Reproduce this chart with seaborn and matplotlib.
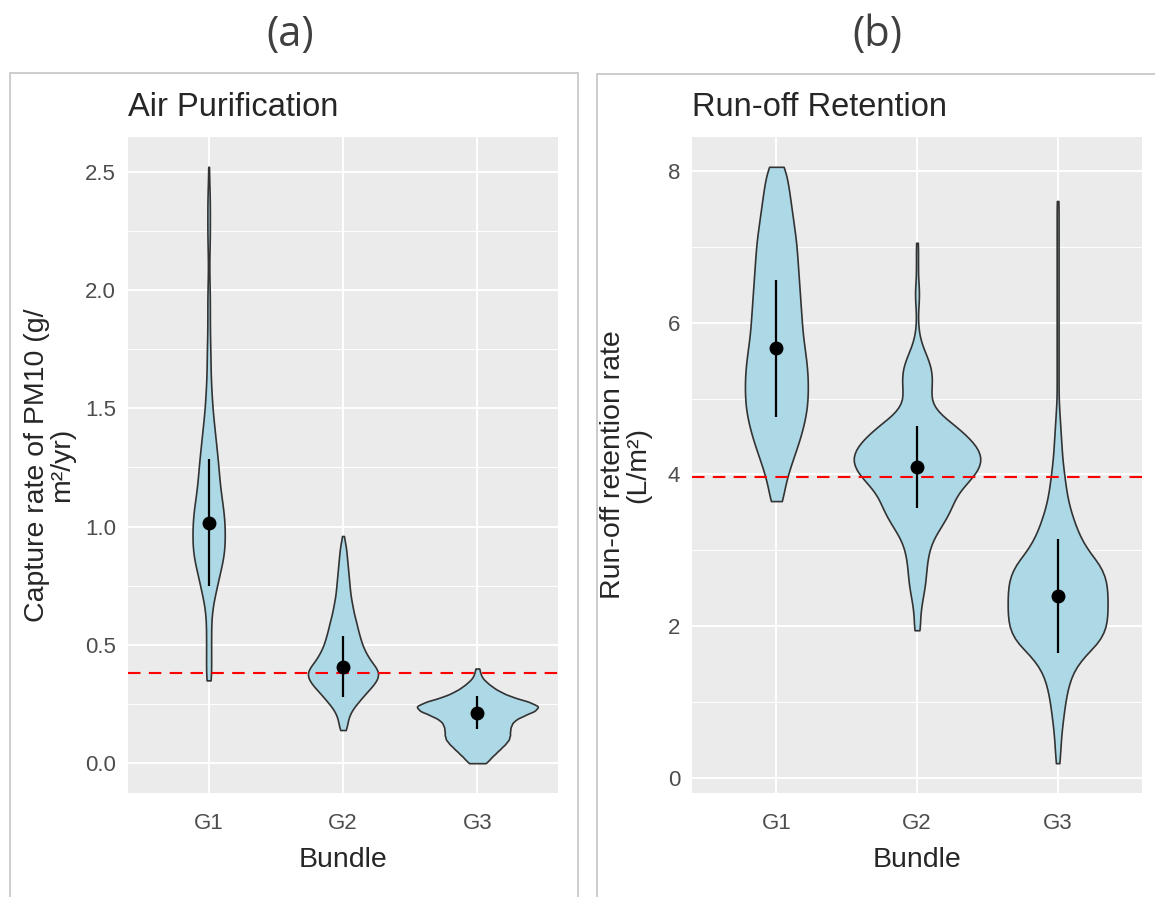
import numpy as np
import pandas as pd
import matplotlib
matplotlib.use("Agg")
import matplotlib.pyplot as plt
import seaborn as sns
from matplotlib.patches import Rectangle
from matplotlib.ticker import MultipleLocator, FormatStrFormatter

bundles = ["G1", "G2", "G3"]

# Air purification (capture rate of PM10), value levels and how many sites sit at each level
air_g1_vals = [0.35, 0.40, 0.45, 0.50, 0.55, 0.60, 0.65, 0.70, 0.75, 0.80,
               0.85, 0.90, 0.95, 1.00, 1.05, 1.10, 1.15, 1.20, 1.25, 1.30,
               1.35, 1.40, 1.45, 1.50, 1.55, 1.60, 1.65, 1.70, 1.75, 1.80,
               1.85, 1.90, 1.95, 2.00, 2.05, 2.10, 2.15, 2.20, 2.25, 2.30,
               2.35, 2.40, 2.45, 2.52]
air_g1_counts = [5, 4, 4, 4, 4, 4, 5, 9, 14, 17,
                 23, 26, 26, 26, 25, 22, 19, 17, 16, 14,
                 12, 10, 8, 6, 5, 4, 3, 3, 3, 2,
                 2, 2, 2, 2, 1, 1, 1, 2, 2, 2,
                 2, 2, 1, 1]
air_g2_vals = [0.14, 0.16, 0.18, 0.20, 0.22, 0.24, 0.26, 0.28, 0.30, 0.32,
               0.34, 0.36, 0.38, 0.40, 0.42, 0.44, 0.46, 0.48, 0.50, 0.52,
               0.54, 0.56, 0.58, 0.60, 0.62, 0.64, 0.66, 0.68, 0.70, 0.72,
               0.74, 0.76, 0.78, 0.80, 0.82, 0.84, 0.86, 0.88, 0.90, 0.92,
               0.94, 0.96]
air_g2_counts = [4, 5, 5, 7, 9, 13, 18, 22, 27, 32,
                 37, 40, 42, 39, 34, 30, 27, 24, 22, 20,
                 19, 17, 16, 15, 13, 12, 11, 10, 9, 8,
                 8, 7, 7, 6, 6, 5, 5, 4, 4, 3,
                 2, 1]
air_g3_vals = [0.00, 0.02, 0.04, 0.06, 0.08, 0.10, 0.12, 0.14, 0.16, 0.18,
               0.20, 0.22, 0.24, 0.26, 0.28, 0.30, 0.32, 0.34, 0.36, 0.38,
               0.40]
air_g3_counts = [9, 13, 18, 23, 28, 32, 33, 33, 34, 37,
                 46, 58, 63, 52, 35, 24, 16, 10, 5, 3,
                 2]
air_mean = [1.017, 0.408, 0.214]
air_sd = [0.27, 0.13, 0.07]
air_ref = 0.38

# Run-off retention rate (L/m2)
run_g1_vals = [3.65, 3.85, 4.05, 4.25, 4.45, 4.65, 4.85, 5.05, 5.25, 5.45,
               5.65, 5.85, 6.05, 6.25, 6.45, 6.65, 6.85, 7.05, 7.25, 7.45,
               7.65, 7.85, 8.05]
run_g1_counts = [6, 8, 12, 17, 22, 26, 29, 30, 30, 29,
                 27, 25, 24, 23, 22, 21, 20, 19, 17, 15,
                 13, 11, 8]
run_g2_vals = [1.95, 2.10, 2.25, 2.40, 2.55, 2.70, 2.85, 3.00, 3.15, 3.30,
               3.45, 3.60, 3.75, 3.90, 4.05, 4.20, 4.35, 4.50, 4.65, 4.80,
               4.95, 5.10, 5.25, 5.40, 5.55, 5.70, 5.85, 6.00, 6.15, 6.30,
               6.45, 6.60, 6.75, 6.90, 7.05]
run_g2_counts = [3, 3, 4, 6, 8, 9, 10, 12, 16, 23,
                 30, 35, 40, 50, 60, 64, 60, 50, 37, 22,
                 14, 14, 15, 14, 10, 5, 2, 1, 1, 2,
                 2, 1, 1, 1, 1]
run_g3_vals = [0.2, 0.4, 0.6, 0.8, 1.0, 1.2, 1.4, 1.6, 1.8, 2.0,
               2.2, 2.4, 2.6, 2.8, 3.0, 3.2, 3.4, 3.6, 3.8, 4.0,
               4.2, 4.4, 4.6, 4.8, 5.0, 5.2, 5.4, 5.6, 5.8, 6.0,
               6.2, 6.4, 6.6, 6.8, 7.0, 7.2, 7.4, 7.6]
run_g3_counts = [2, 3, 4, 6, 8, 11, 16, 27, 45, 52,
                 53, 53, 52, 46, 32, 23, 17, 12, 9, 7,
                 5, 4, 3, 2, 1, 1, 1, 1, 1, 1,
                 1, 1, 1, 1, 1, 1, 1, 1]
run_mean = [5.66, 4.10, 2.40]
run_sd = [0.90, 0.54, 0.75]
run_ref = 3.97


def long_df(vals, counts):
    parts = []
    for b, v, c in zip(bundles, vals, counts):
        parts.append(pd.DataFrame({"Bundle": b, "value": np.repeat(v, c)}))
    return pd.concat(parts, ignore_index=True)


air_df = long_df([air_g1_vals, air_g2_vals, air_g3_vals],
                 [air_g1_counts, air_g2_counts, air_g3_counts])
run_df = long_df([run_g1_vals, run_g2_vals, run_g3_vals],
                 [run_g1_counts, run_g2_counts, run_g3_counts])

sns.set_style("darkgrid", {"axes.facecolor": "#EBEBEB", "grid.color": "white"})
plt.rcParams["font.family"] = ["Liberation Sans", "DejaVu Sans"]

fig = plt.figure(figsize=(11.55, 8.97), dpi=100)
ax_a = fig.add_axes([128 / 1155, 1 - 793 / 897, 430 / 1155, 656 / 897])
ax_b = fig.add_axes([692 / 1155, 1 - 793 / 897, 450 / 1155, 656 / 897])


def panel(ax, df, mean, sd, ref, title, ylabel, step, fmt, lpad):
    sns.violinplot(data=df, x="Bundle", y="value", order=bundles, ax=ax,
                   color="#ADD8E6", saturation=1, inner=None, cut=0,
                   width=0.9, density_norm="area", bw_method=0.13,
                   linewidth=1.2, linecolor="#333333")
    pos = np.arange(len(bundles))
    ax.errorbar(pos, mean, yerr=sd, fmt="o", color="black", ms=9,
                elinewidth=1.6, capsize=0, zorder=5)
    ax.axhline(ref, color="red", lw=1.5, dashes=(6, 4), zorder=4)

    lo, hi = df["value"].min(), df["value"].max()
    pad = 0.05 * (hi - lo)
    ax.set_ylim(lo - pad, hi + pad)
    ax.set_xlim(-0.6, len(bundles) - 0.4)
    ax.yaxis.set_major_locator(MultipleLocator(step))
    ax.yaxis.set_minor_locator(MultipleLocator(step / 2))
    ax.yaxis.set_major_formatter(FormatStrFormatter(fmt))
    ax.grid(which="major", color="white", lw=1.4)
    ax.grid(which="minor", axis="y", color="white", lw=0.7)
    ax.set_axisbelow(True)
    for s in ax.spines.values():
        s.set_visible(False)
    ax.tick_params(axis="both", which="major", length=4.5, width=1.1,
                   color="#333333", labelcolor="#4D4D4D", labelsize=16)
    ax.tick_params(axis="x", which="major", pad=10)
    ax.tick_params(axis="y", which="major", pad=4)
    ax.tick_params(axis="y", which="minor", length=0)
    ax.set_xlabel("Bundle", fontsize=20.5, labelpad=9)
    ax.set_ylabel(ylabel, fontsize=20.5, linespacing=0.95,
                  multialignment="center", labelpad=lpad)
    ax.set_title(title, loc="left", fontsize=23.5, pad=15)


panel(ax_a, air_df, air_mean, air_sd, air_ref, "Air Purification",
      "Capture rate of PM10 (g/\nm²/yr)", 0.5, "%.1f", 7)
panel(ax_b, run_df, run_mean, run_sd, run_ref, "Run-off Retention",
      "Run-off retention rate\n(L/m²)", 2, "%d", 12)

# frames and panel letters
for x0, x1, y0 in [(10, 578, 73), (597, 1165, 74)]:
    fig.add_artist(Rectangle((x0 / 1155, -0.02), (x1 - x0) / 1155,
                             1 - y0 / 897 + 0.02, transform=fig.transFigure,
                             fill=False, edgecolor="#C4C4C4", lw=1.2,
                             clip_on=False))
fig.text(290 / 1155, 1 - 35 / 897, "(a)", ha="center", va="center",
         fontsize=30, color="#404040", family=["Open Sans", "DejaVu Sans"])
fig.text(877 / 1155, 1 - 35 / 897, "(b)", ha="center", va="center",
         fontsize=30, color="#404040", family=["Open Sans", "DejaVu Sans"])

fig.savefig("out.png", dpi=100)
